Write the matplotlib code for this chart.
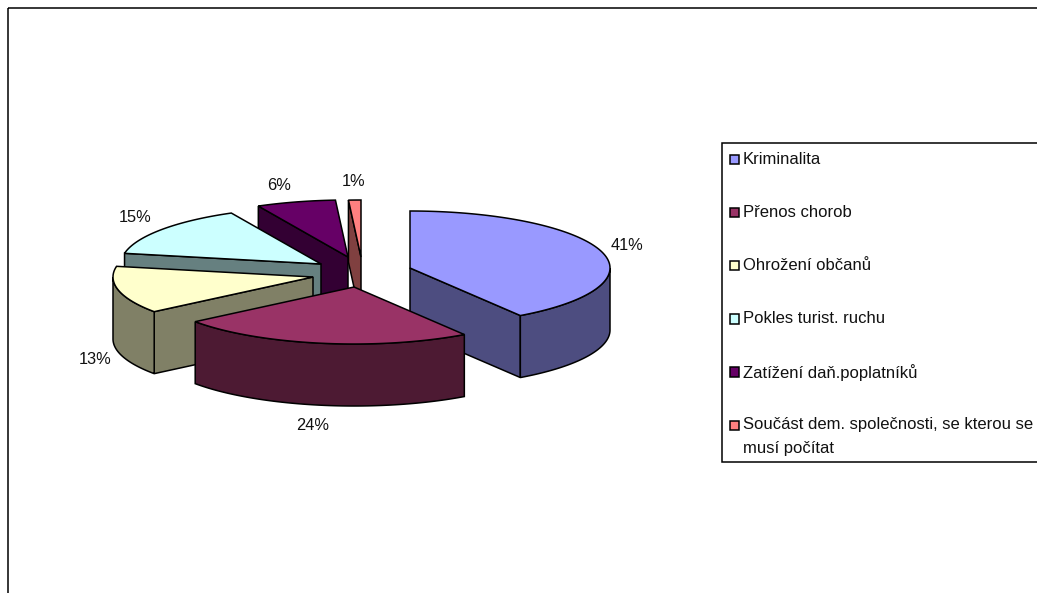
import numpy as np
import matplotlib

matplotlib.use("Agg")
from matplotlib import pyplot as plt
from matplotlib.patches import Polygon, Rectangle

categories = [
    "Kriminalita",
    "Přenos chorob",
    "Ohrožení občanů",
    "Pokles turist. ruchu",
    "Zatížení daň.poplatníků",
    "Součást dem. společnosti, se kterou se\nmusí počítat",
]
shares = [40.7, 23.9, 13.4, 14.6, 6.4, 1.0]
share_labels = ["41%", "24%", "13%", "15%", "6%", "1%"]

top_colors = ["#9999FF", "#993366", "#FFFFCC", "#CCFFFF", "#660066", "#FF8080"]
side_colors = ["#4D4D80", "#4D1A33", "#808066", "#668080", "#330033", "#804040"]

# exploded slice apexes and label centres, in image pixels
APEX = [(410, 268), (354, 287), (313, 277), (321, 264), (348, 257), (361, 257)]
LABEL_POS = [(627, 245), (313, 425), (95, 359), (135, 217), (279, 185), (354, 182)]
DRAW_ORDER = [5, 4, 3, 2, 0, 1]

RX = 200
RY = 57
DEPTH = 62
LINE = 1.1
FONT = ["Liberation Sans", "DejaVu Sans"]
LABEL_FONTSIZE = 11.8
LEGEND_FONTSIZE = 12.0

LEGEND_LEFT = 722
LEGEND_TOP = 143
LEGEND_BOTTOM = 462
LEGEND_ROW0 = 159
LEGEND_STEP = 53.2


def rim_point(apex, angle):
    rad = np.radians(angle)
    return apex[0] + RX * np.sin(rad), apex[1] - RY * np.cos(rad)


def rim_points(apex, start, end):
    angles = np.linspace(start, end, max(int(end - start) * 2, 2))
    return [rim_point(apex, angle) for angle in angles]


def draw_wall(axis, points, color):
    axis.add_patch(Polygon(points, closed=True, facecolor=color, edgecolor="black", linewidth=LINE))


def draw_slice(axis, index, start, end):
    apex = APEX[index]
    side = side_colors[index]

    # radial walls only show when they face the viewer
    for angle, visible in ((start, start > 180), (end, end < 180)):
        if visible:
            x, y = rim_point(apex, angle)
            wall = [apex, (x, y), (x, y + DEPTH), (apex[0], apex[1] + DEPTH)]
            draw_wall(axis, wall, side)

    rim_start = max(start, 90)
    rim_end = min(end, 270)
    if rim_start < rim_end:
        upper = rim_points(apex, rim_start, rim_end)
        lower = [(x, y + DEPTH) for x, y in reversed(upper)]
        draw_wall(axis, upper + lower, side)

    top = [apex] + rim_points(apex, start, end)
    draw_wall(axis, top, top_colors[index])


fig = plt.figure(figsize=(10.37, 5.93), dpi=100, facecolor="white")
axis = fig.add_axes([0, 0, 1, 1])
axis.set_xlim(0, 1037)
axis.set_ylim(593, 0)
axis.axis("off")

# chart frame runs off the right and bottom of the image
axis.add_patch(Rectangle((8, 8), 1100, 700, fill=False, edgecolor="black", linewidth=LINE))

edges = np.cumsum([0] + shares) * 3.6
for index in DRAW_ORDER:
    draw_slice(axis, index, edges[index], edges[index + 1])

for text, (x, y) in zip(share_labels, LABEL_POS):
    axis.text(x, y, text, ha="center", va="center", family=FONT, fontsize=LABEL_FONTSIZE, color="#111111")

axis.add_patch(
    Rectangle(
        (LEGEND_LEFT, LEGEND_TOP),
        500,
        LEGEND_BOTTOM - LEGEND_TOP,
        facecolor="white",
        edgecolor="black",
        linewidth=LINE,
    )
)
for index, name in enumerate(categories):
    y = LEGEND_ROW0 + index * LEGEND_STEP
    axis.add_patch(
        Rectangle((729.5, y - 4.5), 9.5, 9.5, facecolor=top_colors[index], edgecolor="black", linewidth=LINE)
    )
    axis.text(
        743,
        y - 7.5,
        name,
        ha="left",
        va="top",
        family=FONT,
        fontsize=LEGEND_FONTSIZE,
        color="#111111",
        linespacing=1.72,
    )

fig.savefig("out.png", dpi=100, facecolor="white")
plt.close(fig)
